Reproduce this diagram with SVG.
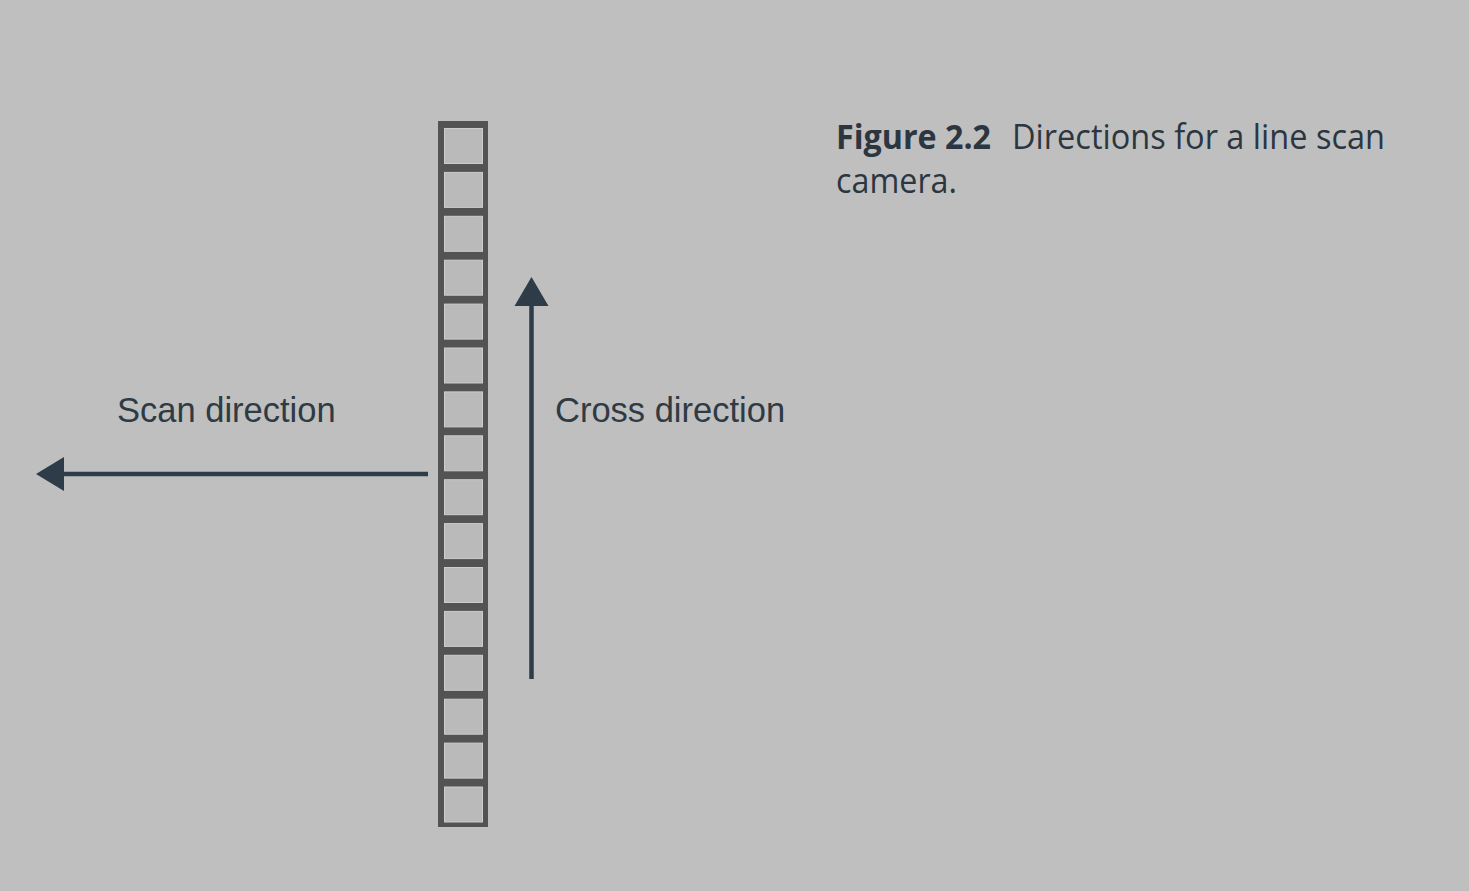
<svg xmlns="http://www.w3.org/2000/svg" xmlns:xlink="http://www.w3.org/1999/xlink" width="1469" height="891" viewBox="0 0 1469 891">
<style>
.lbl{font-family:"Liberation Sans",Arial,sans-serif;font-size:34.5px;fill:#2e3a44}
.cap{font-family:"Open Sans","Noto Sans",sans-serif;font-size:34px;fill:#2b3641}
.cell{fill:#bababa;stroke:#cdcdcd;stroke-width:1}
.conn{stroke:#2d3c48;stroke-width:4.5;fill:none}
.head{fill:#2d3c48}
</style>
<defs>
<rect id="c" class="cell" x="444.5" y="0.5" width="38" height="35"/>
</defs>
<rect width="1469" height="891" fill="#bfbfbf"/>
<g id="sensor">
<rect x="438" y="121" width="50" height="706" fill="#535353"/>
<use xlink:href="#c" y="128"/>
<use xlink:href="#c" y="171.9"/>
<use xlink:href="#c" y="215.8"/>
<use xlink:href="#c" y="259.7"/>
<use xlink:href="#c" y="303.6"/>
<use xlink:href="#c" y="347.5"/>
<use xlink:href="#c" y="391.4"/>
<use xlink:href="#c" y="435.3"/>
<use xlink:href="#c" y="479.2"/>
<use xlink:href="#c" y="523.1"/>
<use xlink:href="#c" y="567"/>
<use xlink:href="#c" y="610.9"/>
<use xlink:href="#c" y="654.8"/>
<use xlink:href="#c" y="698.7"/>
<use xlink:href="#c" y="742.6"/>
<use xlink:href="#c" y="786.5"/>
</g>
<g id="connectors">
<line class="conn" x1="428" y1="474" x2="62" y2="474"/>
<polygon class="head" points="36,474 64,457 64,491"/>
<line class="conn" x1="531.5" y1="679" x2="531.5" y2="303"/>
<polygon class="head" points="531.5,277 514.5,306 548.5,306"/>
</g>
<g id="scan-label"><text class="lbl" x="117" y="422">Scan direction</text></g>
<g id="cross-label"><text class="lbl" x="555" y="422">Cross direction</text></g>
<g id="caption">
<text class="cap" x="836" y="149"><tspan font-weight="bold" textLength="155" lengthAdjust="spacingAndGlyphs">Figure 2.2</tspan><tspan x="1012" textLength="373" lengthAdjust="spacingAndGlyphs">Directions for a line scan</tspan></text>
<text class="cap" x="836" y="193" textLength="121" lengthAdjust="spacingAndGlyphs">camera.</text>
</g>
</svg>
